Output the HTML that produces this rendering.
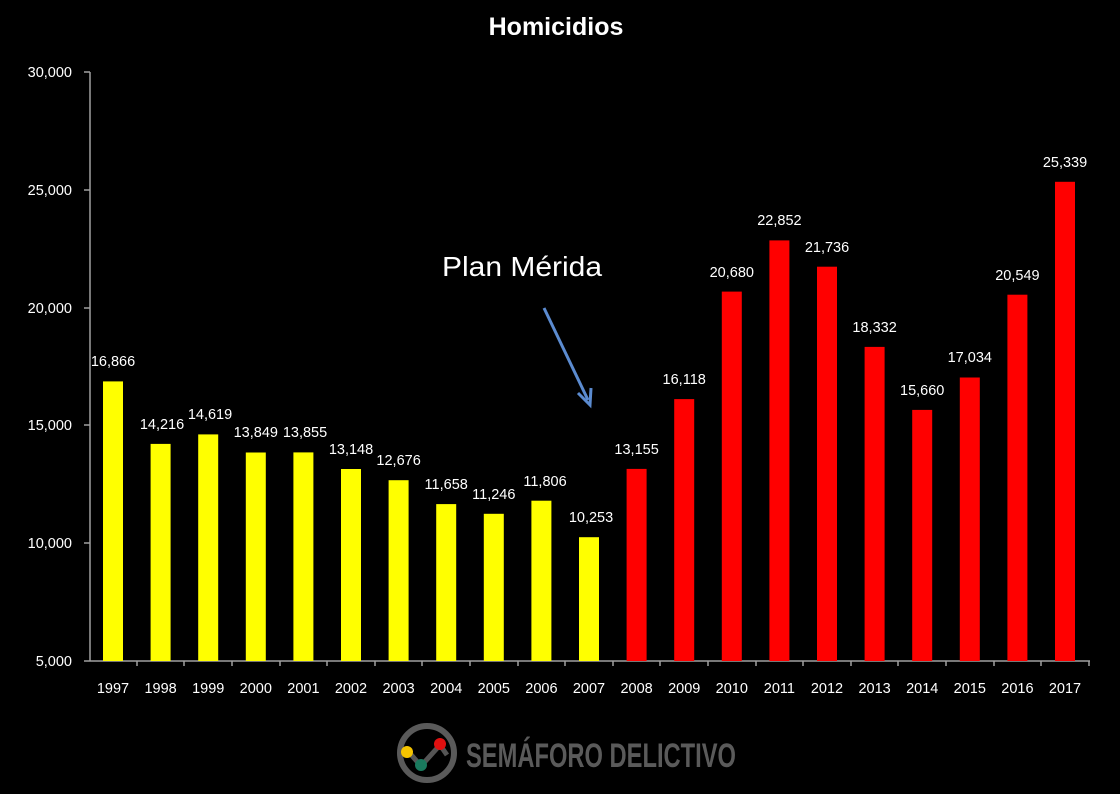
<!DOCTYPE html>
<html><head><meta charset="utf-8"><style>
html,body{margin:0;padding:0;background:#000;}
svg{display:block}
text{font-family:"Liberation Sans",sans-serif;fill:#fff}
</style></head><body>
<svg width="1120" height="794" viewBox="0 0 1120 794" xmlns="http://www.w3.org/2000/svg">
<rect width="1120" height="794" fill="#000"/>
<text x="556" y="35" font-size="25" font-weight="bold" text-anchor="middle">Homicidios</text>
<!-- axes -->
<g stroke="#a0a0a0" stroke-width="1.5">
<line x1="90" y1="72" x2="90" y2="661"/>
<line x1="90" y1="661" x2="1090" y2="661"/>
<line x1="84" y1="72" x2="90" y2="72"/>
<line x1="84" y1="190" x2="90" y2="190"/>
<line x1="84" y1="308" x2="90" y2="308"/>
<line x1="84" y1="425" x2="90" y2="425"/>
<line x1="84" y1="543" x2="90" y2="543"/>
<line x1="84" y1="661" x2="90" y2="661"/>
</g>
<g font-size="14.5" text-anchor="end" fill="#fff">
<text x="72" y="77">30,000</text>
<text x="72" y="195">25,000</text>
<text x="72" y="313">20,000</text>
<text x="72" y="430">15,000</text>
<text x="72" y="548">10,000</text>
<text x="72" y="666">5,000</text>
</g>
<g stroke="#a0a0a0" stroke-width="1.5">
<line x1="137" y1="661" x2="137" y2="666"/><line x1="184" y1="661" x2="184" y2="666"/><line x1="232" y1="661" x2="232" y2="666"/><line x1="280" y1="661" x2="280" y2="666"/><line x1="327" y1="661" x2="327" y2="666"/><line x1="375" y1="661" x2="375" y2="666"/><line x1="422" y1="661" x2="422" y2="666"/><line x1="470" y1="661" x2="470" y2="666"/><line x1="518" y1="661" x2="518" y2="666"/><line x1="565" y1="661" x2="565" y2="666"/><line x1="613" y1="661" x2="613" y2="666"/><line x1="660" y1="661" x2="660" y2="666"/><line x1="708" y1="661" x2="708" y2="666"/><line x1="756" y1="661" x2="756" y2="666"/><line x1="803" y1="661" x2="803" y2="666"/><line x1="851" y1="661" x2="851" y2="666"/><line x1="898" y1="661" x2="898" y2="666"/><line x1="946" y1="661" x2="946" y2="666"/><line x1="994" y1="661" x2="994" y2="666"/><line x1="1041" y1="661" x2="1041" y2="666"/><line x1="1089" y1="661" x2="1089" y2="666"/>
</g>
<g fill="#ffff00">
<rect x="103" y="381.4" width="20" height="279.6"/>
<rect x="150.6" y="443.9" width="20" height="217.1"/>
<rect x="198.2" y="434.4" width="20" height="226.6"/>
<rect x="245.8" y="452.5" width="20" height="208.5"/>
<rect x="293.4" y="452.4" width="20" height="208.6"/>
<rect x="341" y="469" width="20" height="192"/>
<rect x="388.6" y="480.2" width="20" height="180.8"/>
<rect x="436.2" y="504.1" width="20" height="156.9"/>
<rect x="483.8" y="513.8" width="20" height="147.2"/>
<rect x="531.4" y="500.7" width="20" height="160.3"/>
<rect x="579" y="537.2" width="20" height="123.8"/>
</g>
<g fill="#ff0000">
<rect x="626.6" y="468.9" width="20" height="192.1"/>
<rect x="674.2" y="399.1" width="20" height="261.9"/>
<rect x="721.8" y="291.6" width="20" height="369.4"/>
<rect x="769.4" y="240.4" width="20" height="420.6"/>
<rect x="817" y="266.7" width="20" height="394.3"/>
<rect x="864.6" y="346.9" width="20" height="314.1"/>
<rect x="912.2" y="409.9" width="20" height="251.1"/>
<rect x="959.8" y="377.5" width="20" height="283.5"/>
<rect x="1007.4" y="294.7" width="20" height="366.3"/>
<rect x="1055" y="181.8" width="20" height="479.2"/>
</g>
<g font-size="14.5" text-anchor="middle">
<text x="113" y="366">16,866</text>
<text x="162" y="429">14,216</text>
<text x="210" y="419">14,619</text>
<text x="255.8" y="437">13,849</text>
<text x="305" y="437">13,855</text>
<text x="351" y="454">13,148</text>
<text x="398.6" y="465">12,676</text>
<text x="446.2" y="489">11,658</text>
<text x="493.8" y="499">11,246</text>
<text x="545" y="486">11,806</text>
<text x="591" y="522">10,253</text>
<text x="636.6" y="454">13,155</text>
<text x="684.2" y="384">16,118</text>
<text x="731.8" y="277">20,680</text>
<text x="779.4" y="225">22,852</text>
<text x="827" y="252">21,736</text>
<text x="874.6" y="332">18,332</text>
<text x="922.2" y="395">15,660</text>
<text x="969.8" y="362">17,034</text>
<text x="1017.4" y="280">20,549</text>
<text x="1065" y="167">25,339</text>
</g>
<g font-size="14.5" text-anchor="middle">
<text x="113" y="693">1997</text><text x="160.6" y="693">1998</text><text x="208.2" y="693">1999</text><text x="255.8" y="693">2000</text><text x="303.4" y="693">2001</text><text x="351" y="693">2002</text><text x="398.6" y="693">2003</text><text x="446.2" y="693">2004</text><text x="493.8" y="693">2005</text><text x="541.4" y="693">2006</text><text x="589" y="693">2007</text><text x="636.6" y="693">2008</text><text x="684.2" y="693">2009</text><text x="731.8" y="693">2010</text><text x="779.4" y="693">2011</text><text x="827" y="693">2012</text><text x="874.6" y="693">2013</text><text x="922.2" y="693">2014</text><text x="969.8" y="693">2015</text><text x="1017.4" y="693">2016</text><text x="1065" y="693">2017</text>
</g>
<text x="442" y="276" font-size="28" textLength="160" lengthAdjust="spacingAndGlyphs">Plan Mérida</text>
<line x1="544" y1="308" x2="588" y2="400" stroke="#5b8bd0" stroke-width="3"/>
<polyline points="578,393 590,405 591,388" fill="none" stroke="#5b8bd0" stroke-width="3"/>
<!-- logo -->
<circle cx="427" cy="753" r="27" fill="none" stroke="#5a5a5a" stroke-width="6"/>
<polyline points="407,750 421,766 440,745 447,755" fill="none" stroke="#555" stroke-width="5"/>
<circle cx="407" cy="752" r="6" fill="#f5c400"/>
<circle cx="421" cy="765" r="6" fill="#1a7a5e"/>
<circle cx="440" cy="744" r="6" fill="#e01010"/>
<text x="466" y="767" font-size="34" font-weight="bold" style="fill:#5a5a5a" textLength="270" lengthAdjust="spacingAndGlyphs">SEMÁFORO DELICTIVO</text>
</svg>
</body></html>
